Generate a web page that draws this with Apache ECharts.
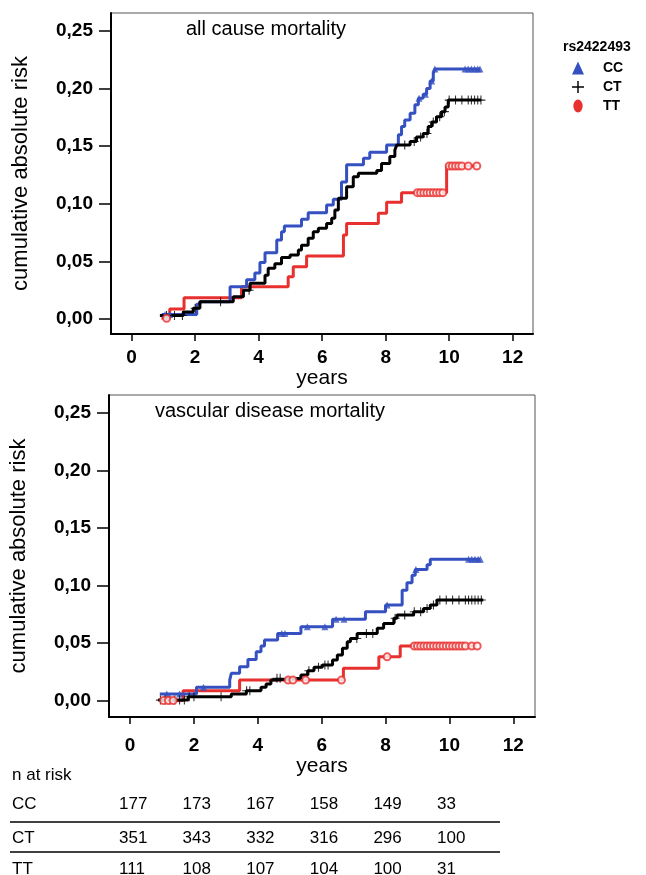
<!DOCTYPE html>
<html>
<head>
<meta charset="utf-8">
<title>rs2422493 cumulative absolute risk</title>
<script src="https://cdn.jsdelivr.net/npm/echarts@6/dist/echarts.min.js"></script>
<style>
  html, body { margin: 0; padding: 0; background: #fff; }
  #chart { width: 646px; height: 875px; }
</style>
</head>
<body>
<div id="chart"></div>
<script>
// step curves: [years, cumulative risk after the step]
var allCauseCC = [[0.95,0.004],[2.05,0.0128],[2.15,0.015],[3.1,0.028],[3.62,0.034],[3.88,0.040],[4.04,0.049],[4.2,0.0576],[4.57,0.0686],[4.72,0.0758],[4.81,0.0807],[5.35,0.0865],[5.56,0.0923],[6.14,0.099],[6.35,0.104],[6.61,0.119],[6.77,0.134],[7.3,0.1395],[7.5,0.1447],[8.03,0.151],[8.4,0.16],[8.5,0.167],[8.6,0.1727],[8.77,0.1786],[8.92,0.186],[9.03,0.1916],[9.18,0.195],[9.29,0.200],[9.4,0.2066],[9.5,0.213],[9.55,0.217],[10.97,0.217]];
var allCauseCT = [[0.89,0.003],[1.63,0.006],[1.94,0.0093],[2.15,0.015],[3.2,0.0194],[3.52,0.025],[3.73,0.031],[4.2,0.038],[4.3,0.044],[4.51,0.048],[4.72,0.0535],[4.99,0.0556],[5.25,0.06],[5.35,0.064],[5.56,0.070],[5.72,0.0758],[5.88,0.0787],[6.14,0.083],[6.3,0.0874],[6.4,0.0946],[6.51,0.1048],[6.77,0.1148],[6.98,0.1235],[7.14,0.1265],[7.72,0.129],[7.87,0.135],[8.13,0.141],[8.29,0.1467],[8.35,0.151],[8.77,0.154],[8.97,0.158],[9.18,0.161],[9.34,0.167],[9.45,0.171],[9.6,0.1756],[9.76,0.18],[9.87,0.184],[9.97,0.190],[11.0,0.190]];
var allCauseTT = [[0.94,0.0006],[1.2,0.0087],[1.65,0.0185],[3.46,0.028],[4.93,0.0367],[5.09,0.0454],[5.51,0.0547],[6.67,0.0729],[6.77,0.083],[7.77,0.0917],[8.03,0.1013],[8.5,0.1097],[9.92,0.1328],[10.87,0.1328]];

var vascCC = [[0.93,0.0057],[2.08,0.0115],[3.12,0.0178],[3.17,0.0237],[3.43,0.0294],[3.69,0.0358],[3.95,0.0424],[4.1,0.0474],[4.21,0.0526],[4.62,0.0584],[5.35,0.0642],[6.34,0.0706],[7.37,0.0772],[8.0,0.083],[8.52,0.096],[8.67,0.1024],[8.83,0.109],[8.93,0.114],[9.3,0.118],[9.4,0.1228],[10.96,0.1228]];
var vascCT = [[0.88,0.0004],[1.82,0.0033],[3.17,0.0057],[3.64,0.0085],[4.1,0.0115],[4.26,0.0143],[4.41,0.0178],[4.57,0.0193],[5.35,0.0222],[5.56,0.0259],[5.76,0.0289],[6.02,0.0309],[6.34,0.0352],[6.49,0.0396],[6.65,0.0454],[6.8,0.0511],[6.9,0.054],[7.11,0.0584],[7.74,0.0628],[7.94,0.067],[8.26,0.0715],[8.36,0.0743],[8.88,0.0772],[9.19,0.080],[9.4,0.083],[9.61,0.0874],[11.06,0.0874]];
var vascTT = [[0.93,0.0],[1.66,0.0085],[3.43,0.0178],[6.68,0.028],[7.79,0.038],[8.46,0.0474],[10.85,0.0474]];

// censored times (years)
var allCauseCensCC = [1.05, 1.2, 9.05, 9.25, 9.45, 9.55, 10.5, 10.6, 10.7, 10.8, 10.9, 10.97];
var allCauseCensCT = [1.1, 1.35, 1.6, 2.0, 2.8, 3.7, 8.6, 8.9, 9.1, 9.3, 9.5, 9.7, 9.85, 10.0, 10.2, 10.4, 10.6, 10.7, 10.8, 10.9, 11.0];
var allCauseCensTT = [1.1, 9.0, 9.1, 9.2, 9.3, 9.4, 9.5, 9.6, 9.7, 9.8, 10.0, 10.1, 10.2, 10.3, 10.4, 10.6, 10.87];
var vascCensCC = [1.15, 1.55, 2.3, 4.75, 4.85, 5.55, 6.1, 6.45, 6.7, 8.05, 8.95, 10.6, 10.7, 10.8, 10.9, 10.97];
var vascCensCT = [0.95, 1.1, 1.25, 1.4, 1.55, 1.7, 1.85, 2.0, 2.85, 3.65, 3.75, 4.6, 4.7, 5.6, 5.9, 6.1, 6.2, 7.1, 7.4, 7.6, 8.3, 8.6, 8.9, 9.1, 9.3, 9.5, 9.7, 9.9, 10.1, 10.3, 10.5, 10.6, 10.7, 10.8, 10.9, 11.0];
var vascCensTT = [1.05, 1.2, 1.35, 4.95, 5.1, 5.5, 6.62, 8.05, 8.9, 9.0, 9.1, 9.2, 9.3, 9.4, 9.5, 9.6, 9.7, 9.8, 9.9, 10.0, 10.1, 10.2, 10.3, 10.4, 10.5, 10.7, 10.87];

var xTicks = [0, 2, 4, 6, 8, 10, 12];
var yTicks = [0, 0.05, 0.10, 0.15, 0.20, 0.25];

// n at risk
var genotypes = ['CC', 'CT', 'TT'];
var atRiskCC = [177, 173, 167, 158, 149, 33];
var atRiskCT = [351, 343, 332, 316, 296, 100];
var atRiskTT = [111, 108, 107, 104, 100, 31];

var blue = '#3550c0', red = '#e8302e', black = '#000';
var font = 'Liberation Sans, Arial, sans-serif';
var crossPath = 'path://M4.4,0H5.6V4.4H10V5.6H5.6V10H4.4V5.6H0V4.4H4.4Z';
var ovalPath = 'path://M5,0A5,7,0,1,1,5,14A5,7,0,1,1,5,0Z';

// value of a step curve at time t
function stepValue(curve, t) {
    var v = curve[0][1];
    for (var i = 0; i < curve.length; i++) {
        if (curve[i][0] <= t) v = curve[i][1];
    }
    return v;
}
function censorPoints(curve, times) {
    return times.map(function (t) { return [t, stepValue(curve, t)]; });
}

function xAxisOf(idx, min, max, labelMargin, nameGap) {
    return {
        type: 'value', gridIndex: idx, min: min, max: max,
        name: 'years', nameLocation: 'middle', nameGap: nameGap,
        nameTextStyle: { fontFamily: font, fontSize: 21, color: black },
        axisLine: { onZero: false, lineStyle: { color: black, width: 2 } },
        axisTick: { customValues: xTicks, length: 7, lineStyle: { color: black, width: 1.5 } },
        axisLabel: { customValues: xTicks, margin: labelMargin, fontFamily: font, fontWeight: 'bold', fontSize: 19, color: black },
        splitLine: { show: false }
    };
}
function yAxisOf(idx, min, max, nameGap) {
    return {
        type: 'value', gridIndex: idx, min: min, max: max,
        name: 'cumulative absolute risk', nameLocation: 'middle', nameGap: nameGap,
        nameTextStyle: { fontFamily: font, fontSize: 22, color: black },
        axisLine: { onZero: false, lineStyle: { color: black, width: 2 } },
        axisTick: { customValues: yTicks, length: 12, lineStyle: { color: black, width: 1.5 } },
        axisLabel: {
            customValues: yTicks, margin: 18, fontFamily: font, fontWeight: 'bold', fontSize: 19, color: black,
            formatter: function (v) { return v.toFixed(2).replace('.', ','); }
        },
        splitLine: { show: false }
    };
}

function lineSeries(name, idx, data, color) {
    return {
        name: name, type: 'line', step: 'end', xAxisIndex: idx, yAxisIndex: idx,
        data: data, showSymbol: false, symbol: 'none',
        lineStyle: { color: color, width: 3 }, itemStyle: { color: color },
        animation: false, z: name === 'CT' ? 3 : 2
    };
}
function censorSeries(name, idx, curve, times, color, symbol, size) {
    return {
        name: name, type: 'scatter', xAxisIndex: idx, yAxisIndex: idx,
        data: censorPoints(curve, times), symbol: symbol, symbolSize: size,
        itemStyle: symbol === 'emptyCircle'
            ? { color: color, borderColor: color, borderWidth: 1.3 }
            : { color: color },
        animation: false, z: 4
    };
}

var chart = echarts.init(document.getElementById('chart'), null, { renderer: 'canvas' });

// table of numbers at risk
var tableGraphic = [
    { type: 'text', left: 12, top: 767, style: { text: 'n at risk', font: '17px ' + font, fill: black } },
    { type: 'line', shape: { x1: 10, y1: 822, x2: 500, y2: 822 }, style: { stroke: black, lineWidth: 1.5 } },
    { type: 'line', shape: { x1: 10, y1: 852, x2: 500, y2: 852 }, style: { stroke: black, lineWidth: 1.5 } }
];
var rowTops = [796, 830, 861];
[atRiskCC, atRiskCT, atRiskTT].forEach(function (row, r) {
    tableGraphic.push({ type: 'text', left: 12, top: rowTops[r], style: { text: genotypes[r], font: '17px ' + font, fill: black } });
    row.forEach(function (n, c) {
        tableGraphic.push({ type: 'text', left: 119 + c * 63.6, top: rowTops[r], style: { text: String(n), font: '17px ' + font, fill: black } });
    });
});

var option = {
    backgroundColor: '#fff',
    animation: false,
    title: [
        { text: 'all cause mortality', left: 181, top: 14, textStyle: { fontFamily: font, fontSize: 20, fontWeight: 'normal', color: black } },
        { text: 'vascular disease mortality', left: 150, top: 396, textStyle: { fontFamily: font, fontSize: 20, fontWeight: 'normal', color: black } },
        { text: 'rs2422493', left: 558, top: 35, textStyle: { fontFamily: font, fontSize: 14, fontWeight: 'bold', color: black } }
    ],
    legend: {
        orient: 'vertical', left: 567, top: 56, itemGap: 5, itemWidth: 12, itemHeight: 13,
        selectedMode: false,
        textStyle: { fontFamily: font, fontSize: 14, fontWeight: 'bold', color: black, padding: [0, 0, 0, 14] },
        data: [
            { name: 'CC', icon: 'triangle', itemStyle: { color: blue } },
            { name: 'CT', icon: crossPath, itemStyle: { color: black } },
            { name: 'TT', icon: ovalPath, itemStyle: { color: red } }
        ]
    },
    grid: [
        { left: 111, top: 13, right: 113, height: 321, show: true, borderColor: '#555', borderWidth: 1 },
        { left: 107, top: 395, right: 111, height: 322, show: true, borderColor: '#555', borderWidth: 1 }
    ],
    xAxis: [xAxisOf(0, -0.65, 12.64, 14, 30), xAxisOf(1, -0.66, 12.68, 19, 39)],
    yAxis: [yAxisOf(0, -0.013, 0.2656, 79), yAxisOf(1, -0.0143, 0.2657, 79)],
    series: [
        lineSeries('TT', 0, allCauseTT, red),
        lineSeries('CC', 0, allCauseCC, blue),
        lineSeries('CT', 0, allCauseCT, black),
        censorSeries('CC', 0, allCauseCC, allCauseCensCC, blue, 'triangle', 7),
        censorSeries('CT', 0, allCauseCT, allCauseCensCT, black, crossPath, 9),
        censorSeries('TT', 0, allCauseTT, allCauseCensTT, red, 'emptyCircle', 7),
        lineSeries('TT', 1, vascTT, red),
        lineSeries('CC', 1, vascCC, blue),
        lineSeries('CT', 1, vascCT, black),
        censorSeries('CC', 1, vascCC, vascCensCC, blue, 'triangle', 7),
        censorSeries('CT', 1, vascCT, vascCensCT, black, crossPath, 9),
        censorSeries('TT', 1, vascTT, vascCensTT, red, 'emptyCircle', 7)
    ],
    graphic: tableGraphic
};
chart.setOption(option);
</script>
</body>
</html>
